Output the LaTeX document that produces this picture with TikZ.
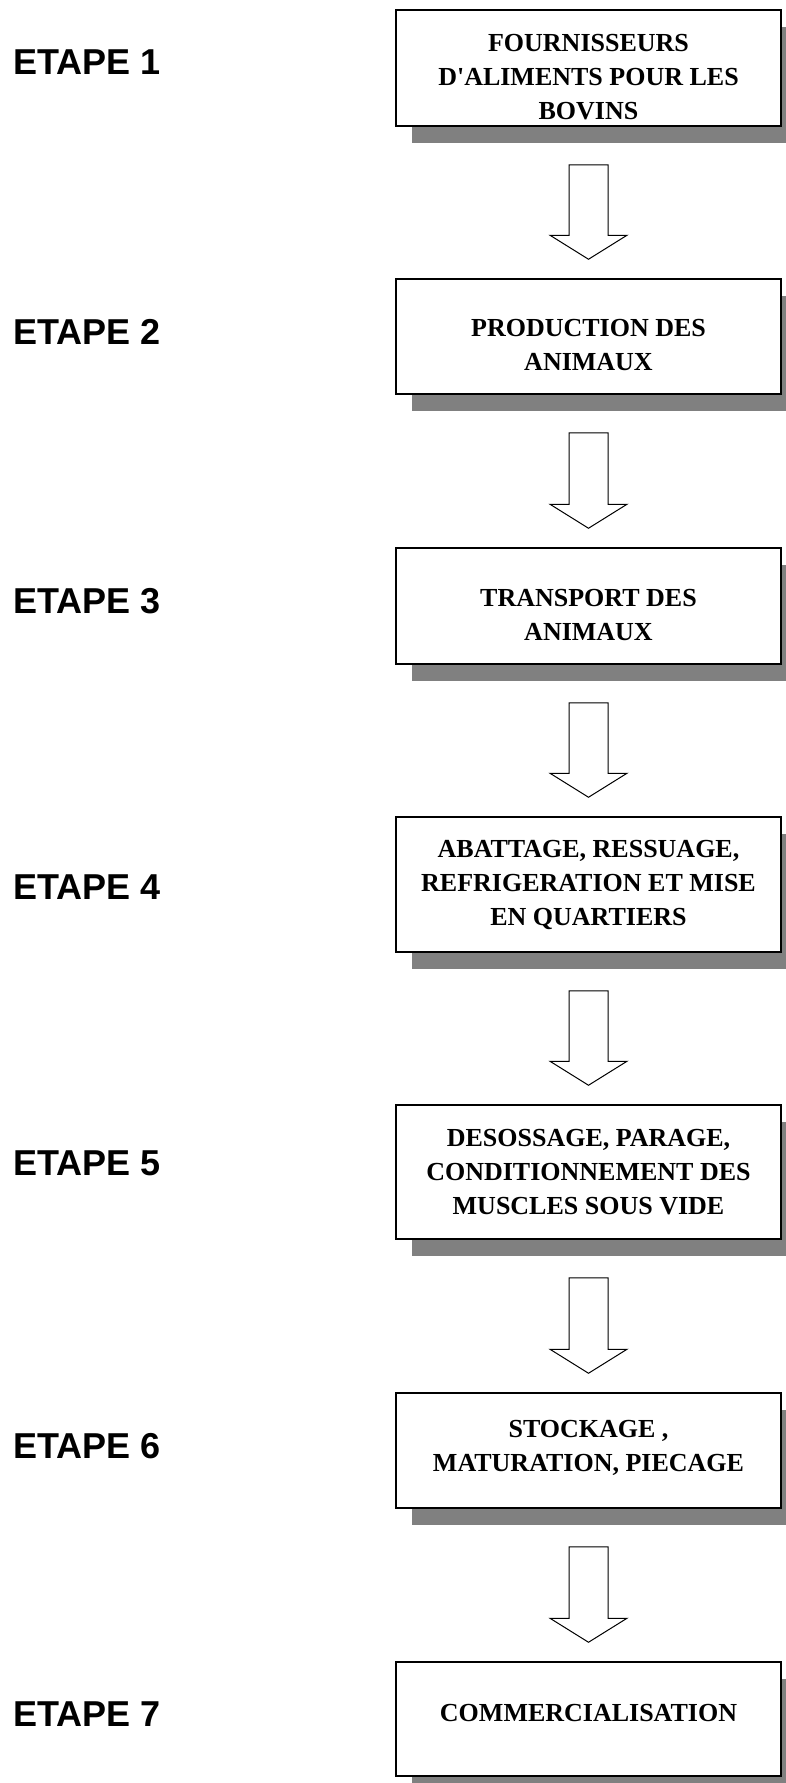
\documentclass[tikz,border=0pt]{standalone}
\usepackage{fontspec}
\setmainfont{Liberation Serif}
\setsansfont{Liberation Sans}
\usetikzlibrary{positioning, calc, shadows}

\tikzset{
  stepbox/.style={draw, line width=1.5pt, fill=white, minimum width=385pt, inner sep=0pt,
    drop shadow={shadow xshift=16pt, shadow yshift=-17pt, fill=black!50, opacity=1}},
  boxtext/.style={align=center, inner sep=0pt, font=\fontsize{26}{34}\selectfont\bfseries},
  etape/.style={anchor=west, inner sep=0pt, font=\fontsize{36}{40}\selectfont\sffamily\bfseries},
  hollow/.style={draw, line width=1pt, fill=white},
}

% hollow arrow from one box down to the next
\newcommand{\stepdown}[2]{%
  \draw[hollow] ($(#1.south)+(-19.5,38)$) -- ($(#2.north)+(-19.5,-43)$)
    -- ($(#2.north)+(-38.5,-43)$) -- ($(#2.north)+(0,-19)$)
    -- ($(#2.north)+(38.5,-43)$) -- ($(#2.north)+(19.5,-43)$)
    -- ($(#1.south)+(19.5,38)$) -- cycle;}

\begin{document}
\begin{tikzpicture}[x=1pt, y=-1pt]
\useasboundingbox (0,0) rectangle (785,1783);

%% step 1
\node[etape] (e1) at (13,62) {ETAPE 1};
\node[stepbox, minimum height=116pt] (b1) at (588.5,68) {};
\node[boxtext] (t1) at ($(b1)+(0,9)$) {FOURNISSEURS\\D\textquotesingle ALIMENTS POUR LES\\BOVINS};

%% step 2
\node[etape] (e2) at (13,332) {ETAPE 2};
\node[stepbox, minimum height=115pt] (b2) at (588.5,336.5) {};
\node[boxtext] (t2) at ($(b2)+(0,9)$) {PRODUCTION DES\\ANIMAUX};

%% step 3
\node[etape] (e3) at (13,601) {ETAPE 3};
\node[stepbox, minimum height=116pt] (b3) at (588.5,606) {};
\node[boxtext] (t3) at ($(b3)+(0,9)$) {TRANSPORT DES\\ANIMAUX};

%% step 4
\node[etape] (e4) at (13,887) {ETAPE 4};
\node[stepbox, minimum height=135pt] (b4) at (588.5,884.5) {};
\node[boxtext] (t4) at ($(b4)+(0,0)$) {ABATTAGE, RESSUAGE,\\REFRIGERATION ET MISE\\EN QUARTIERS};

%% step 5
\node[etape] (e5) at (13,1163) {ETAPE 5};
\node[stepbox, minimum height=134pt] (b5) at (588.5,1172) {};
\node[boxtext] (t5) at ($(b5)+(0,0)$) {DESOSSAGE, PARAGE,\\CONDITIONNEMENT DES\\MUSCLES SOUS VIDE};

%% step 6
\node[etape] (e6) at (13,1446) {ETAPE 6};
\node[stepbox, minimum height=115pt] (b6) at (588.5,1450.5) {};
\node[boxtext] (t6) at ($(b6)+(0,-3)$) {STOCKAGE ,\\MATURATION, PIECAGE};

%% step 7
\node[etape] (e7) at (13,1714) {ETAPE 7};
\node[stepbox, minimum height=114pt] (b7) at (588.5,1719) {};
\node[boxtext] (t7) at ($(b7)+(0,-6)$) {COMMERCIALISATION};

% arrows
\stepdown{b1}{b2}
\stepdown{b2}{b3}
\stepdown{b3}{b4}
\stepdown{b4}{b5}
\stepdown{b5}{b6}
\stepdown{b6}{b7}
\end{tikzpicture}
\end{document}
